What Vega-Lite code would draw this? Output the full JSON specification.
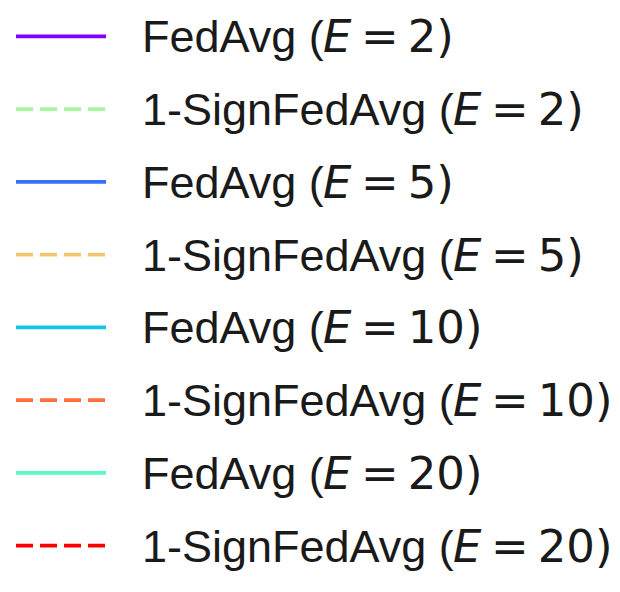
{
  "$schema": "https://vega.github.io/schema/vega-lite/v6.json",
  "width": 620,
  "height": 582,
  "autosize": {"type": "none"},
  "padding": {"left": 0, "right": 0, "top": 0, "bottom": 10},
  "background": "white",
  "config": {"view": {"stroke": null}},
  "data": {
    "values": [
      {"series": "FedAvg (E=2)", "method": "FedAvg", "E": "2", "style": "solid"},
      {"series": "1-SignFedAvg (E=2)", "method": "1-SignFedAvg", "E": "2", "style": "dashed"},
      {"series": "FedAvg (E=5)", "method": "FedAvg", "E": "5", "style": "solid"},
      {"series": "1-SignFedAvg (E=5)", "method": "1-SignFedAvg", "E": "5", "style": "dashed"},
      {"series": "FedAvg (E=10)", "method": "FedAvg", "E": "10", "style": "solid"},
      {"series": "1-SignFedAvg (E=10)", "method": "1-SignFedAvg", "E": "10", "style": "dashed"},
      {"series": "FedAvg (E=20)", "method": "FedAvg", "E": "20", "style": "solid"},
      {"series": "1-SignFedAvg (E=20)", "method": "1-SignFedAvg", "E": "20", "style": "dashed"}
    ]
  },
  "transform": [
    {"calculate": "datum.method + ' ('", "as": "prefix"},
    {"calculate": "'=\u2009' + datum.E + ')'", "as": "suffix"}
  ],
  "encoding": {
    "y": {
      "field": "series",
      "type": "nominal",
      "scale": {
        "type": "point",
        "padding": 0.5,
        "domain": ["FedAvg (E=2)", "1-SignFedAvg (E=2)", "FedAvg (E=5)", "1-SignFedAvg (E=5)", "FedAvg (E=10)", "1-SignFedAvg (E=10)", "FedAvg (E=20)", "1-SignFedAvg (E=20)"]
      },
      "axis": null
    }
  },
  "layer": [
    {
      "mark": {"type": "rule", "strokeWidth": 3.7, "strokeCap": "butt"},
      "encoding": {
        "x": {"datum": 16, "type": "quantitative", "scale": {"domain": [0, 620], "nice": false, "zero": false}, "axis": null},
        "x2": {"datum": 106},
        "color": {
          "field": "series",
          "type": "nominal",
          "scale": {
            "domain": ["FedAvg (E=2)", "1-SignFedAvg (E=2)", "FedAvg (E=5)", "1-SignFedAvg (E=5)", "FedAvg (E=10)", "1-SignFedAvg (E=10)", "FedAvg (E=20)", "1-SignFedAvg (E=20)"],
            "range": ["#8000ff", "#a4f99f", "#376ff9", "#edc76f", "#12c7e6", "#ff6f39", "#5bf9c7", "#ff0000"]
          },
          "legend": null
        },
        "strokeDash": {
          "field": "style",
          "type": "nominal",
          "scale": {"domain": ["solid", "dashed"], "range": [[1, 0], [17, 7]]},
          "legend": null
        }
      }
    },
    {
      "mark": {"type": "text", "align": "left", "baseline": "alphabetic", "dy": 16, "font": "Liberation Sans", "fontSize": 45, "color": "#1a1a1a"},
      "encoding": {
        "x": {"datum": 142, "type": "quantitative"},
        "text": {"field": "prefix"}
      }
    },
    {
      "transform": [{"filter": "datum.method === 'FedAvg'"}],
      "mark": {"type": "text", "align": "left", "baseline": "alphabetic", "dy": 16, "font": "DejaVu Sans", "fontStyle": "italic", "fontSize": 45, "color": "#1a1a1a"},
      "encoding": {
        "x": {"datum": 323, "type": "quantitative"},
        "text": {"value": "E"}
      }
    },
    {
      "transform": [{"filter": "datum.method === '1-SignFedAvg'"}],
      "mark": {"type": "text", "align": "left", "baseline": "alphabetic", "dy": 16, "font": "DejaVu Sans", "fontStyle": "italic", "fontSize": 45, "color": "#1a1a1a"},
      "encoding": {
        "x": {"datum": 453, "type": "quantitative"},
        "text": {"value": "E"}
      }
    },
    {
      "transform": [{"filter": "datum.method === 'FedAvg'"}],
      "mark": {"type": "text", "align": "left", "baseline": "alphabetic", "dy": 16, "font": "DejaVu Sans", "fontSize": 45, "color": "#1a1a1a"},
      "encoding": {
        "x": {"datum": 361, "type": "quantitative"},
        "text": {"field": "suffix"}
      }
    },
    {
      "transform": [{"filter": "datum.method === '1-SignFedAvg'"}],
      "mark": {"type": "text", "align": "left", "baseline": "alphabetic", "dy": 16, "font": "DejaVu Sans", "fontSize": 45, "color": "#1a1a1a"},
      "encoding": {
        "x": {"datum": 491, "type": "quantitative"},
        "text": {"field": "suffix"}
      }
    }
  ]
}
